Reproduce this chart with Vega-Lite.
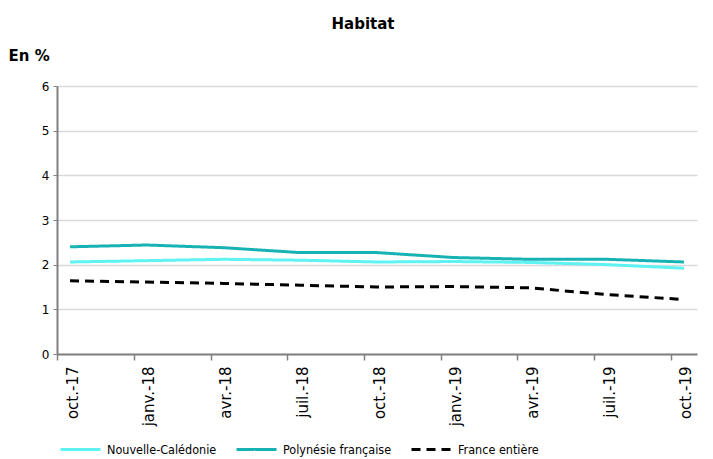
{
  "$schema": "https://vega.github.io/schema/vega-lite/v6.json",
  "width": 640,
  "height": 268,
  "autosize": {"type": "none"},
  "padding": {"left": 57, "top": 86, "right": 16, "bottom": 105},
  "background": "white",
  "title": {
    "text": "Habitat",
    "font": "DejaVu Sans",
    "fontSize": 15,
    "fontWeight": "bold",
    "color": "#000000",
    "anchor": "middle",
    "offset": 16,
    "dx": -14,
    "frame": "group"
  },
  "data": {
    "values": [
      {"date": "oct.-17", "serie": "Nouvelle-Calédonie", "v": 2.06},
      {"date": "janv.-18", "serie": "Nouvelle-Calédonie", "v": 2.09},
      {"date": "avr.-18", "serie": "Nouvelle-Calédonie", "v": 2.12},
      {"date": "juil.-18", "serie": "Nouvelle-Calédonie", "v": 2.10},
      {"date": "oct.-18", "serie": "Nouvelle-Calédonie", "v": 2.06},
      {"date": "janv.-19", "serie": "Nouvelle-Calédonie", "v": 2.07},
      {"date": "avr.-19", "serie": "Nouvelle-Calédonie", "v": 2.05},
      {"date": "juil.-19", "serie": "Nouvelle-Calédonie", "v": 2.00},
      {"date": "oct.-19", "serie": "Nouvelle-Calédonie", "v": 1.92},
      {"date": "oct.-17", "serie": "Polynésie française", "v": 2.40},
      {"date": "janv.-18", "serie": "Polynésie française", "v": 2.44},
      {"date": "avr.-18", "serie": "Polynésie française", "v": 2.38},
      {"date": "juil.-18", "serie": "Polynésie française", "v": 2.27},
      {"date": "oct.-18", "serie": "Polynésie française", "v": 2.27},
      {"date": "janv.-19", "serie": "Polynésie française", "v": 2.16},
      {"date": "avr.-19", "serie": "Polynésie française", "v": 2.12},
      {"date": "juil.-19", "serie": "Polynésie française", "v": 2.12},
      {"date": "oct.-19", "serie": "Polynésie française", "v": 2.06},
      {"date": "oct.-17", "serie": "France entière", "v": 1.64},
      {"date": "janv.-18", "serie": "France entière", "v": 1.61},
      {"date": "avr.-18", "serie": "France entière", "v": 1.58},
      {"date": "juil.-18", "serie": "France entière", "v": 1.54},
      {"date": "oct.-18", "serie": "France entière", "v": 1.50},
      {"date": "janv.-19", "serie": "France entière", "v": 1.51},
      {"date": "avr.-19", "serie": "France entière", "v": 1.48},
      {"date": "juil.-19", "serie": "France entière", "v": 1.33},
      {"date": "oct.-19", "serie": "France entière", "v": 1.22}
    ]
  },
  "mark": {"type": "line", "strokeWidth": 3},
  "encoding": {
    "x": {
      "field": "date",
      "type": "ordinal",
      "sort": null,
      "scale": {"type": "point", "padding": 0.17},
      "axis": {
        "title": null,
        "labelAngle": -90,
        "labelAlign": "right",
        "labelBaseline": "middle",
        "labelFont": "DejaVu Sans",
        "labelFontSize": 15,
        "labelColor": "#000000",
        "labelPadding": 6,
        "tickOffset": -13,
        "labelOffset": 15,
        "tickSize": 6,
        "tickColor": "#808080",
        "tickWidth": 1.5,
        "domainColor": "#808080",
        "domainWidth": 2,
        "grid": false
      }
    },
    "y": {
      "field": "v",
      "type": "quantitative",
      "scale": {"domain": [0, 6], "nice": false},
      "axis": {
        "title": "En %",
        "titleAngle": 0,
        "titleX": -49,
        "titleY": -31,
        "titleAlign": "left",
        "titleBaseline": "middle",
        "titleFont": "DejaVu Sans",
        "titleFontSize": 15,
        "titleFontWeight": "bold",
        "titleColor": "#000000",
        "values": [0, 1, 2, 3, 4, 5, 6],
        "labelFont": "DejaVu Sans",
        "labelFontSize": 12,
        "labelColor": "#000000",
        "labelPadding": 4,
        "tickSize": 4,
        "tickColor": "#808080",
        "domainColor": "#808080",
        "domainWidth": 2,
        "grid": true,
        "gridColor": "#d9d9d9",
        "gridWidth": 1.5
      }
    },
    "color": {
      "field": "serie",
      "type": "nominal",
      "sort": ["Nouvelle-Calédonie", "Polynésie française", "France entière"],
      "scale": {
        "domain": ["Nouvelle-Calédonie", "Polynésie française", "France entière"],
        "range": ["#5ef2f2", "#17b2b4", "#000000"]
      },
      "legend": {
        "title": null,
        "orient": "none",
        "legendX": 2,
        "legendY": 342,
        "direction": "horizontal",
        "symbolType": "stroke",
        "symbolSize": 1600,
        "symbolStrokeWidth": 3,
        "labelFont": "DejaVu Sans Condensed",
        "labelFontSize": 12.5,
        "labelColor": "#000000",
        "labelOffset": 5,
        "columnPadding": 13,
        "labelLimit": 200
      }
    },
    "strokeDash": {
      "field": "serie",
      "type": "nominal",
      "sort": ["Nouvelle-Calédonie", "Polynésie française", "France entière"],
      "scale": {
        "domain": ["Nouvelle-Calédonie", "Polynésie française", "France entière"],
        "range": [[1, 0], [1, 0], [9, 6]]
      },
      "legend": null
    }
  },
  "config": {
    "view": {"stroke": null}
  }
}
